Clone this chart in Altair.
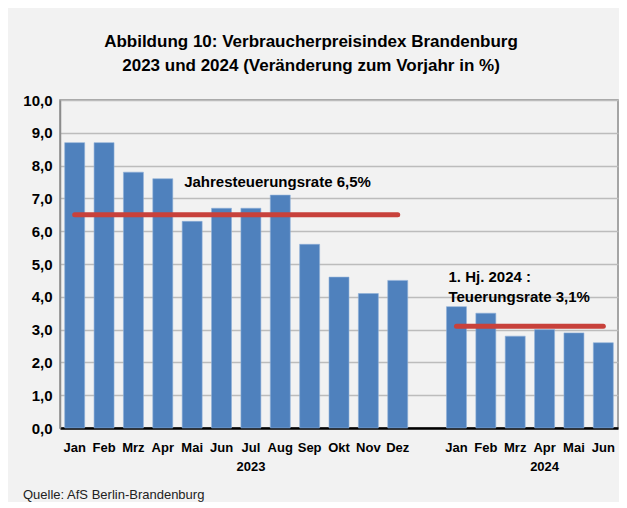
import json
import altair as alt
import pandas as pd

months23 = ["Jan", "Feb", "Mrz", "Apr", "Mai", "Jun", "Jul", "Aug", "Sep", "Okt", "Nov", "Dez"]
values23 = [8.7, 8.7, 7.8, 7.6, 6.3, 6.7, 6.7, 7.1, 5.6, 4.6, 4.1, 4.5]
months24 = ["Jan", "Feb", "Mrz", "Apr", "Mai", "Jun"]
values24 = [3.7, 3.5, 2.8, 3.0, 2.9, 2.6]
rate23 = 6.5
rate24 = 3.1
title_lines = ["Abbildung 10: Verbraucherpreisindex Brandenburg",
               "2023 und 2024 (Veränderung zum Vorjahr in %)"]
note23 = "Jahresteuerungsrate 6,5%"
note24 = ["1. Hj. 2024 :", "Teuerungsrate 3,1%"]
source = "Quelle: AfS Berlin-Brandenburg"

FONT = "Liberation Sans, Arial"

keys23 = ["2023-" + m for m in months23]
keys24 = ["2024-" + m for m in months24]
domain = keys23 + ["gap"] + keys24

labels = []
for m in months23:
    labels.append(["Jul", "2023"] if m == "Jul" else m)
labels.append("")
for m in months24:
    labels.append(["Apr", "2024"] if m == "Apr" else m)

label_expr = "%s[indexof(%s, datum.value)]" % (json.dumps(labels), json.dumps(domain))

bars = pd.DataFrame({"key": keys23 + keys24, "value": values23 + values24})
rules = pd.DataFrame({"key": [keys23[0], keys24[0]], "end": [keys23[-1], keys24[-1]],
                      "value": [rate23, rate24]})
notes = pd.DataFrame({"key": ["2023-Mai", "2024-Jan"], "value": [7.5, 4.6],
                      "text": [note23, note24]})

xscale = alt.Scale(domain=domain, paddingInner=0.32, paddingOuter=0.16)
yscale = alt.Scale(domain=[0, 10], nice=False)

xaxis = alt.Axis(labelExpr=label_expr, labelAngle=0, ticks=False, domain=True,
                 domainColor="#000000", domainWidth=2.5, labelPadding=13,
                 labelFont=FONT, labelFontSize=13, labelFontWeight="bold",
                 labelColor="#000000", labelLineHeight=19, labelBaseline="top")
yaxis = alt.Axis(values=list(range(0, 11)),
                 labelExpr="replace(format(datum.value, '.1f'), '.', ',')",
                 grid=True, gridColor="#bcbcbc", gridWidth=1.5, ticks=False,
                 domainColor="#8c8c8c", domainWidth=1.5, labelPadding=8,
                 labelFont=FONT, labelFontSize=15, labelFontWeight="bold",
                 labelColor="#000000")

base_x = alt.X("key:N", scale=xscale, sort=domain, title=None, axis=xaxis)
base_y = alt.Y("value:Q", scale=yscale, title=None, axis=yaxis)

bar = alt.Chart(bars).mark_bar(color="#4f81bd", stroke="#8fb0d8", strokeWidth=0.6).encode(
    x=base_x, y=base_y,
)

rule = alt.Chart(rules).mark_rule(color="#c8413b", strokeWidth=5, strokeCap="round").encode(
    x=base_x, x2="end:N", y=base_y,
)

note = alt.Chart(notes).mark_text(align="left", baseline="middle", dx=-8, font=FONT,
                                  fontSize=15, fontWeight="bold", color="#000000",
                                  lineHeight=20).encode(
    x=base_x, y=base_y, text="text",
)

src = alt.Chart(pd.DataFrame({"t": [source]})).mark_text(
    align="left", baseline="middle", font=FONT, fontSize=13, color="#222222"
).encode(x=alt.value(-37), y=alt.value(395), text="t:N")

chart = alt.layer(bar, rule, note, src).properties(
    width=558, height=328,
    padding={"left": 52, "top": 92, "right": 1, "bottom": 74},
    autosize=alt.AutoSizeParams(type="none"),
    background="#f2f2f2",
    title=alt.TitleParams(title_lines, anchor="middle", frame="group", dx=-28, offset=18,
                          font=FONT, fontSize=17, fontWeight="bold", color="#000000",
                          lineHeight=24),
).configure_view(stroke="#8c8c8c", strokeWidth=1.5)

chart.save("out.html", embed_options={"renderer": "svg", "actions": False})
